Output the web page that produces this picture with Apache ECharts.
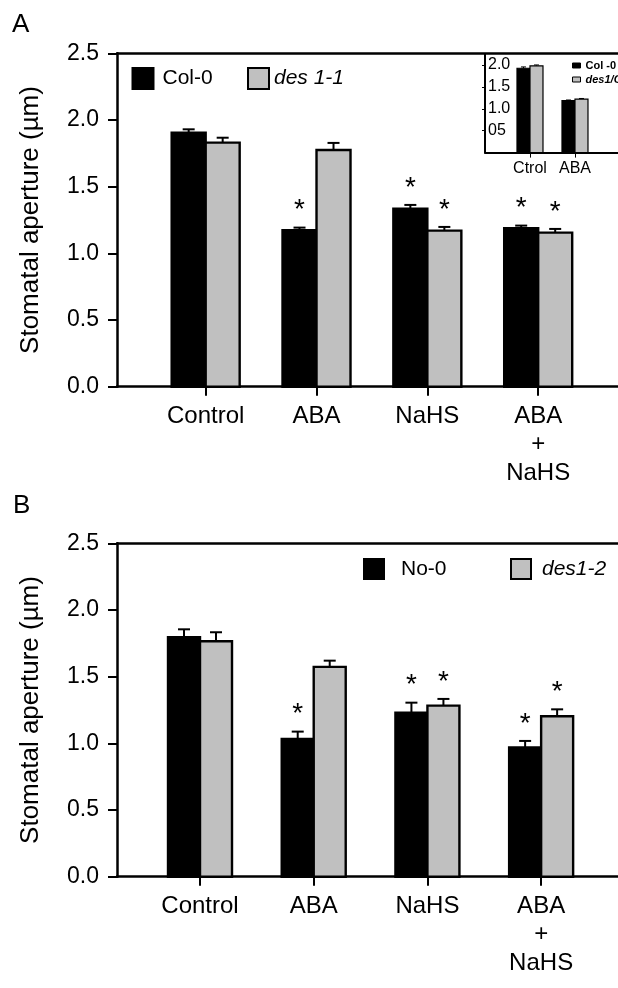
<!DOCTYPE html>
<html>
<head>
<meta charset="utf-8">
<script src="https://cdn.jsdelivr.net/npm/echarts@6/dist/echarts.min.js"></script>
<style>
html,body{margin:0;padding:0;background:#fff;}
#c{width:618px;height:988px;}
</style>
</head>
<body>
<div id="c"></div>
<script>
// ---------- data ----------
const categories = ['Control', 'ABA', 'NaHS', 'ABA\n+\nNaHS'];
const yTickLabels = ['0.0', '0.5', '1.0', '1.5', '2.0', '2.5'];

// Panel A
const col0Mean = [1.905, 1.173, 1.335, 1.188];
const col0Err = [0.025, 0.020, 0.028, 0.020];
const col0Sig = [0, 1, 1, 1];
const des11Mean = [1.830, 1.775, 1.170, 1.155];
const des11Err = [0.037, 0.053, 0.028, 0.028];
const des11Sig = [0, 0, 1, 1];

// Panel B
const no0Mean = [1.795, 1.033, 1.230, 0.970];
const no0Err = [0.060, 0.055, 0.075, 0.048];
const no0Sig = [0, 1, 1, 1];
const des12Mean = [1.765, 1.573, 1.283, 1.203];
const des12Err = [0.068, 0.047, 0.050, 0.052];
const des12Sig = [0, 0, 1, 1];

// Inset (panel A)
const insetCategories = ['Ctrol', 'ABA'];
const insetTickValues = [0.5, 1.0, 1.5, 2.0];
const insetTickLabels = ['05', '1.0', '1.5', '2.0'];
const insetCol0Mean = [1.925, 1.185];
const insetCol0Err = [0.03, 0.015];
const insetDesMean = [1.980, 1.220];
const insetDesErr = [0.02, 0.015];

// ---------- helpers ----------
const FONT = '"Liberation Sans", Arial, Helvetica, sans-serif';
const BLACK = '#000000';
const GRAY = '#c0c0c0';

function rows(mean, err, sig) {
  return mean.map((m, i) => [i + 1, m, err[i], sig ? sig[i] : 0]);
}

function makeRender(offsetSign, barW, fill, capW, lw) {
  return function (params, api) {
    const x = api.value(0), m = api.value(1), e = api.value(2), s = api.value(3);
    const base = api.coord([x, 0]);
    const top = api.coord([x, m]);
    const et = api.coord([x, m + e]);
    const cx = base[0] + offsetSign * barW / 2;
    const children = [
      { type: 'line', shape: { x1: cx, y1: top[1], x2: cx, y2: et[1] }, style: { stroke: BLACK, lineWidth: lw } },
      { type: 'line', shape: { x1: cx - capW / 2, y1: et[1], x2: cx + capW / 2, y2: et[1] }, style: { stroke: BLACK, lineWidth: lw } },
      { type: 'rect', shape: { x: cx - barW / 2, y: top[1], width: barW, height: base[1] - top[1] },
        style: { fill: fill, stroke: BLACK, lineWidth: lw * 1.2 } }
    ];
    if (s) {
      children.push({ type: 'text', style: { text: '*', x: cx, y: et[1] - 17, align: 'center', verticalAlign: 'middle',
        font: '28px ' + FONT, fill: BLACK } });
    }
    return { type: 'group', children: children };
  };
}

function mainSeries(name, axisIdx, data, sign, barW, fill) {
  return {
    type: 'custom', name: name, xAxisIndex: axisIdx, yAxisIndex: axisIdx,
    itemStyle: { color: fill, borderColor: BLACK, borderWidth: 2 },
    renderItem: makeRender(sign, barW, fill, 12, 2),
    data: data, clip: false, silent: true
  };
}

function xMain(grid, min, max) {
  return {
    gridIndex: grid, type: 'value', min: min, max: max, position: 'bottom',
    axisLine: { show: true, onZero: false, lineStyle: { color: BLACK, width: 2.5 } },
    splitLine: { show: false },
    axisTick: { show: true, customValues: [1, 2, 3, 4], length: 9, lineStyle: { color: BLACK, width: 2 } },
    axisLabel: { show: true, customValues: [1, 2, 3, 4], formatter: v => categories[Math.round(v) - 1],
      fontSize: 24, fontFamily: FONT, color: BLACK, margin: 15, lineHeight: 28.5, align: 'center' }
  };
}
function xTop(grid, min, max) {
  return {
    gridIndex: grid, type: 'value', min: min, max: max, position: 'top',
    axisLine: { show: true, onZero: false, lineStyle: { color: BLACK, width: 2.5 } },
    splitLine: { show: false }, axisTick: { show: false }, axisLabel: { show: false }
  };
}
function yMain(grid) {
  return {
    gridIndex: grid, type: 'value', min: 0, max: 2.5, interval: 0.5,
    axisLine: { show: true, onZero: false, lineStyle: { color: BLACK, width: 2.5 } },
    splitLine: { show: false },
    axisTick: { show: true, length: 9, lineStyle: { color: BLACK, width: 2 } },
    axisLabel: { formatter: v => yTickLabels[Math.round(v / 0.5)], fontSize: 23, fontFamily: FONT, color: BLACK, margin: 18 },
    name: 'Stomatal aperture (\u00b5m)', nameLocation: 'middle', nameGap: 73,
    nameTextStyle: { fontSize: 26, fontFamily: FONT, color: BLACK }
  };
}

function legendOne(name, left, top, size, fill, textPadLeft, italic) {
  return {
    data: [{ name: name, itemStyle: { color: fill, borderColor: BLACK, borderWidth: 2 },
      textStyle: italic ? { fontStyle: 'italic' } : {} }],
    left: left, top: top, padding: 0, itemWidth: size, itemHeight: size, icon: 'rect',
    selectedMode: false,
    textStyle: { fontSize: 21, fontFamily: FONT, color: BLACK, padding: [0, 0, 0, textPadLeft] }
  };
}

const chart = echarts.init(document.getElementById('c'), null, { renderer: 'canvas' });

const option = {
  backgroundColor: '#ffffff',
  animation: false,
  grid: [
    { left: 117, top: 53.3, right: 0, bottom: 601.3 },
    { left: 117, top: 543.3, right: 0, bottom: 111.3 },
    { left: 485, top: 54, right: 0, bottom: 835.4 }
  ],
  xAxis: [
    xMain(0, 0.2, 4.72),
    xMain(1, 0.27, 4.676),
    {
      gridIndex: 2, type: 'value', min: 0, max: 2.956,
      axisLine: { show: true, onZero: false, lineStyle: { color: BLACK, width: 2 } },
      splitLine: { show: false },
      axisTick: { show: true, customValues: [1, 2], length: 5, lineStyle: { color: BLACK, width: 1 } },
      axisLabel: { customValues: [1, 2], formatter: v => insetCategories[Math.round(v) - 1],
        fontSize: 16, fontFamily: FONT, color: BLACK, margin: 8 }
    },
    xTop(0, 0.2, 4.72),
    xTop(1, 0.27, 4.676)
  ],
  yAxis: [
    yMain(0),
    yMain(1),
    {
      gridIndex: 2, type: 'value', min: 0, max: 2.25,
      axisLine: { show: true, onZero: false, lineStyle: { color: BLACK, width: 2 } },
      splitLine: { show: false },
      axisTick: { show: true, customValues: insetTickValues, length: 3, lineStyle: { color: BLACK, width: 1 } },
      axisLabel: { inside: true, customValues: insetTickValues,
        formatter: v => insetTickLabels[insetTickValues.indexOf(v)],
        fontSize: 16, fontFamily: FONT, color: BLACK, margin: 3 }
    }
  ],
  legend: [
    legendOne('Col-0', 131.5, 67, 21, BLACK, 4, false),
    legendOne('des 1-1', 247, 67, 21, GRAY, 0, true),
    legendOne('No-0', 363, 558, 20, BLACK, 12, false),
    legendOne('des1-2', 510, 558, 20, GRAY, 6, true),
    {
      data: [{ name: 'Col -0', itemStyle: { color: BLACK, borderColor: BLACK, borderWidth: 1 } },
             { name: 'des1/Col-0', itemStyle: { color: GRAY, borderColor: BLACK, borderWidth: 1 },
               textStyle: { fontStyle: 'italic' } }],
      orient: 'vertical', left: 572, top: 59, padding: 0, itemWidth: 8, itemHeight: 5, itemGap: 1,
      icon: 'rect', selectedMode: false,
      textStyle: { fontSize: 11, fontWeight: 'bold', fontFamily: FONT, color: BLACK, lineHeight: 13 }
    }
  ],
  graphic: [
    { type: 'text', left: 12, top: 12, style: { text: 'A', font: '26px ' + FONT, fill: BLACK } },
    { type: 'text', left: 13, top: 493, style: { text: 'B', font: '26px ' + FONT, fill: BLACK } }
  ],
  series: [
    mainSeries('Col-0', 0, rows(col0Mean, col0Err, col0Sig), -1, 34, BLACK),
    mainSeries('des 1-1', 0, rows(des11Mean, des11Err, des11Sig), 1, 34, GRAY),
    mainSeries('No-0', 1, rows(no0Mean, no0Err, no0Sig), -1, 32, BLACK),
    mainSeries('des1-2', 1, rows(des12Mean, des12Err, des12Sig), 1, 32, GRAY),
    {
      type: 'custom', name: 'Col -0', xAxisIndex: 2, yAxisIndex: 2,
      itemStyle: { color: BLACK }, renderItem: makeRender(-1, 13, BLACK, 5, 1),
      data: rows(insetCol0Mean, insetCol0Err, null), clip: false, silent: true
    },
    {
      type: 'custom', name: 'des1/Col-0', xAxisIndex: 2, yAxisIndex: 2,
      itemStyle: { color: GRAY }, renderItem: makeRender(1, 13, GRAY, 5, 1),
      data: rows(insetDesMean, insetDesErr, null), clip: false, silent: true
    }
  ]
};
chart.setOption(option);
</script>
</body>
</html>
